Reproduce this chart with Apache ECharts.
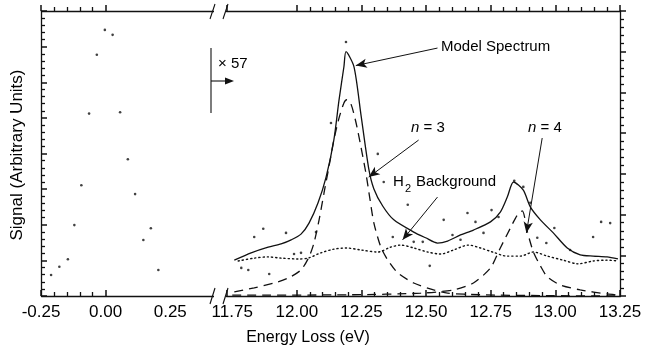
<!DOCTYPE html>
<html>
<head>
<meta charset="utf-8">
<script src="https://cdn.jsdelivr.net/npm/echarts@6/dist/echarts.min.js"></script>
<style>
  html, body { margin: 0; padding: 0; background: #fff; }
  #chart { width: 648px; height: 356px; }
</style>
</head>
<body>
<div id="chart"></div>
<script>
// elastic peak, left panel (eV, signal)
const elasticE = [-0.211, -0.179, -0.146, -0.121, -0.094, -0.064, -0.034, -0.003, 0.027, 0.056, 0.086, 0.114, 0.146, 0.175, 0.204]
const elasticS = [0.59, 0.82, 1.03, 1.99, 3.11, 5.12, 6.77, 7.47, 7.33, 5.16, 3.84, 2.86, 1.57, 1.90, 0.73]

// measured loss spectrum (x57), right panel
const lossE = [11.785, 11.812, 11.835, 11.870, 11.893, 11.958, 11.989, 12.016, 12.074, 12.132, 12.190, 12.313, 12.336, 12.371,
  12.429, 12.452, 12.487, 12.514, 12.568, 12.602, 12.633, 12.660, 12.691, 12.722, 12.753, 12.780, 12.841, 12.876, 12.903,
  12.930, 12.965, 12.996, 13.057, 13.146, 13.177, 13.212]
const lossS = [0.69, 0.64, 1.45, 1.65, 0.54, 1.55, 1.03, 1.06, 1.57, 4.25, 6.24, 3.49, 2.80, 1.45,
  2.24, 1.33, 1.33, 0.74, 1.87, 1.50, 1.38, 2.04, 1.82, 1.55, 2.11, 1.94, 2.83, 2.68, 2.29,
  1.43, 1.30, 1.67, 1.13, 1.45, 1.82, 1.79]

// model spectrum
const modelE = [11.758, 11.823, 11.889, 11.939, 11.978, 12.016, 12.047, 12.082, 12.113, 12.143, 12.163, 12.182, 12.190, 12.221,
  12.248, 12.278, 12.298, 12.332, 12.375, 12.452, 12.498, 12.544, 12.583, 12.633, 12.683, 12.749, 12.787, 12.814, 12.838,
  12.876, 12.903, 12.942, 12.992, 13.046, 13.096, 13.146, 13.200, 13.242]
const modelS = [0.88, 1.06, 1.20, 1.28, 1.38, 1.52, 1.79, 2.29, 2.92, 3.83, 4.81, 5.63, 6.00, 5.63,
  4.45, 3.13, 2.63, 2.21, 1.87, 1.57, 1.43, 1.30, 1.35, 1.50, 1.62, 1.82, 2.06, 2.43, 2.80,
  2.60, 2.19, 1.87, 1.55, 1.18, 1.01, 0.98, 0.96, 0.91]

// n = 3 component
const n3E = [11.758, 11.835, 11.912, 11.966, 12.016, 12.047, 12.066, 12.086, 12.105, 12.124, 12.143, 12.163, 12.182, 12.193,
  12.209, 12.228, 12.248, 12.267, 12.282, 12.298, 12.325, 12.352, 12.390, 12.452, 12.529, 12.583, 12.710, 12.942, 13.250]
const n3S = [0.10, 0.20, 0.32, 0.44, 0.64, 0.96, 1.30, 1.87, 2.53, 3.17, 3.83, 4.37, 4.74, 4.82,
  4.72, 4.28, 3.66, 3.02, 2.41, 1.79, 1.20, 0.88, 0.57, 0.32, 0.15, 0.07, 0.03, 0.01, 0.0]

// n = 4 component
const n4E = [11.75, 12.209, 12.479, 12.606, 12.683, 12.749, 12.787, 12.826, 12.853, 12.872, 12.892, 12.915, 12.942, 12.969,
  13.019, 13.096, 13.200, 13.250]
const n4S = [0.02, 0.03, 0.07, 0.15, 0.32, 0.69, 1.18, 1.67, 1.99, 2.09, 1.57, 1.08, 0.74, 0.47,
  0.27, 0.15, 0.05, 0.02]

// H2 background
const bgE = [11.773, 11.835, 11.889, 11.939, 12.005, 12.043, 12.093, 12.143, 12.190, 12.248, 12.313, 12.363, 12.402, 12.452,
  12.506, 12.556, 12.606, 12.664, 12.710, 12.757, 12.814, 12.865, 12.915, 12.969, 13.030, 13.088, 13.146, 13.200, 13.242]
const bgS = [0.86, 0.93, 0.96, 0.93, 0.91, 0.93, 1.06, 1.15, 1.18, 1.13, 1.08, 1.20, 1.25, 1.18,
  1.08, 1.03, 1.13, 1.25, 1.18, 1.08, 0.98, 0.98, 1.08, 0.98, 0.88, 0.79, 0.86, 0.88, 0.86]

const tickLabels = [-0.25, 0, 0.25, 11.75, 12, 12.25, 12.5, 12.75, 13, 13.25]

// broken energy axis: visible pieces -0.25..0.422 and 11.727..13.25
const axisBreak = { start: 0.422, end: 11.727 }

const FONT = 'Liberation Sans, Arial, sans-serif'
const INK = '#111'

function pairs(xs, ys) {
  return xs.map((x, i) => [x, ys[i]])
}

function energyAxis(top) {
  return {
    type: 'value',
    position: top ? 'top' : 'bottom',
    min: -0.25,
    max: 13.25,
    interval: 0.25,
    breaks: [{ start: axisBreak.start, end: axisBreak.end, gap: '2%' }],
    breakArea: { show: false },
    axisLine: { onZero: false, lineStyle: { color: INK, width: 1.3 } },
    axisTick: { show: true, inside: !top, length: 6, lineStyle: { color: INK, width: 1.5 } },
    minorTick: { show: true, splitNumber: 5, length: 4, lineStyle: { color: INK, width: 1.3 } },
    axisLabel: {
      show: !top,
      customValues: tickLabels,
      formatter: (v) => v.toFixed(2),
      color: '#000',
      fontFamily: FONT,
      fontSize: 17,
      margin: 8,
    },
    splitLine: { show: false },
  }
}

function signalAxis(side, max) {
  return {
    type: 'value',
    position: side,
    min: 0,
    max: max,
    interval: 1,
    axisLine: { show: true, onZero: false, lineStyle: { color: INK, width: 1.3 } },
    axisTick: { show: true, inside: side === 'left', length: 6, lineStyle: { color: INK, width: 1.5 } },
    minorTick: { show: true, splitNumber: 5, length: 4, lineStyle: { color: INK, width: 1.3 } },
    axisLabel: { show: false },
    splitLine: { show: false },
  }
}

function arrow(from, to) {
  return [{ coord: from }, { coord: to }]
}

const chart = echarts.init(document.getElementById('chart'))

chart.setOption({
  animation: false,
  backgroundColor: '#fff',
  grid: { left: 41, right: 28, top: 11, height: 285, containLabel: false, outerBoundsMode: 'none' },
  xAxis: [energyAxis(false), energyAxis(true)],
  yAxis: [signalAxis('left', 8), signalAxis('right', 7)],
  series: [
    {
      type: 'scatter',
      yAxisIndex: 0,
      data: pairs(elasticE, elasticS),
      symbolSize: 2.6,
      itemStyle: { color: INK },
    },
    {
      name: 'Model Spectrum',
      type: 'line',
      yAxisIndex: 1,
      data: pairs(modelE, modelS),
      showSymbol: false,
      smooth: 0.25,
      lineStyle: { color: INK, width: 1.3 },
    },
    {
      name: 'n = 3',
      type: 'line',
      yAxisIndex: 1,
      data: pairs(n3E, n3S),
      showSymbol: false,
      smooth: 0.25,
      lineStyle: { color: INK, width: 1.3, type: [9, 6] },
    },
    {
      name: 'n = 4',
      type: 'line',
      yAxisIndex: 1,
      data: pairs(n4E, n4S),
      showSymbol: false,
      smooth: 0.25,
      lineStyle: { color: INK, width: 1.3, type: [9, 6] },
    },
    {
      name: 'H2 Background',
      type: 'line',
      yAxisIndex: 1,
      data: pairs(bgE, bgS),
      showSymbol: false,
      smooth: 0.3,
      lineStyle: { color: INK, width: 1.4, type: [1.2, 3], cap: 'round' },
    },
    {
      type: 'scatter',
      yAxisIndex: 1,
      data: pairs(lossE, lossS),
      symbolSize: 2.6,
      itemStyle: { color: INK },
      markLine: {
        silent: true,
        symbol: ['none', 'arrow'],
        symbolSize: [7, 11],
        label: { show: false },
        lineStyle: { color: INK, width: 1, type: 'solid' },
        data: [
          arrow([12.544, 6.09], [12.228, 5.66]),
          arrow([12.471, 3.83], [12.278, 2.92]),
          arrow([12.544, 2.43], [12.409, 1.38]),
          arrow([12.949, 3.88], [12.888, 1.55]),
        ],
      },
    },
  ],
  graphic: [
    // mask axis lines inside the break gap
    { type: 'rect', z: 90, shape: { x: 214, y: 288, width: 10, height: 12 }, style: { fill: '#fff' } },
    { type: 'rect', z: 90, shape: { x: 214, y: 3, width: 10, height: 12 }, style: { fill: '#fff' } },
    // axis break marks
    { type: 'line', z: 100, shape: { x1: 210, y1: 304, x2: 215, y2: 288 }, style: { stroke: INK, lineWidth: 1.1 } },
    { type: 'line', z: 100, shape: { x1: 223, y1: 304, x2: 228, y2: 288 }, style: { stroke: INK, lineWidth: 1.1 } },
    { type: 'line', z: 100, shape: { x1: 210, y1: 19, x2: 215, y2: 4 }, style: { stroke: INK, lineWidth: 1.1 } },
    { type: 'line', z: 100, shape: { x1: 223, y1: 19, x2: 228, y2: 4 }, style: { stroke: INK, lineWidth: 1.1 } },
    // x57 marker
    { type: 'line', z: 100, shape: { x1: 211, y1: 48, x2: 211, y2: 113 }, style: { stroke: INK, lineWidth: 1.1 } },
    { type: 'line', z: 100, shape: { x1: 211, y1: 81, x2: 227, y2: 81 }, style: { stroke: INK, lineWidth: 1.1 } },
    { type: 'polygon', z: 100, shape: { points: [[234, 81], [225, 77.5], [225, 84.5]] }, style: { fill: INK } },
    { type: 'text', z: 100, x: 218, y: 64, style: { text: '× 57', font: '15px ' + FONT, fill: '#000', verticalAlign: 'middle' } },
    // annotations
    { type: 'text', z: 100, x: 441, y: 47, style: { text: 'Model Spectrum', font: '15px ' + FONT, fill: '#000', verticalAlign: 'middle' } },
    {
      type: 'text', z: 100, x: 411, y: 128,
      style: {
        text: '{i|n} = 3', font: '15px ' + FONT, fill: '#000', verticalAlign: 'middle',
        rich: { i: { fontStyle: 'italic', fontSize: 15, fontFamily: FONT } },
      },
    },
    {
      type: 'text', z: 100, x: 528, y: 128,
      style: {
        text: '{i|n} = 4', font: '15px ' + FONT, fill: '#000', verticalAlign: 'middle',
        rich: { i: { fontStyle: 'italic', fontSize: 15, fontFamily: FONT } },
      },
    },
    { type: 'text', z: 100, x: 393, y: 182, style: { text: 'H', font: '15px ' + FONT, fill: '#000', verticalAlign: 'middle' } },
    { type: 'text', z: 100, x: 405, y: 189, style: { text: '2', font: '11px ' + FONT, fill: '#000', verticalAlign: 'middle' } },
    { type: 'text', z: 100, x: 416, y: 182, style: { text: 'Background', font: '15px ' + FONT, fill: '#000', verticalAlign: 'middle' } },
    // axis titles
    {
      type: 'text', z: 100, x: 17, y: 155, rotation: Math.PI / 2,
      style: { text: 'Signal (Arbitrary Units)', font: '17px ' + FONT, fill: '#000', align: 'center', verticalAlign: 'middle' },
    },
    { type: 'text', z: 100, x: 308, y: 338, style: { text: 'Energy Loss (eV)', font: '16px ' + FONT, fill: '#000', align: 'center', verticalAlign: 'middle' } },
  ],
})
</script>
</body>
</html>
